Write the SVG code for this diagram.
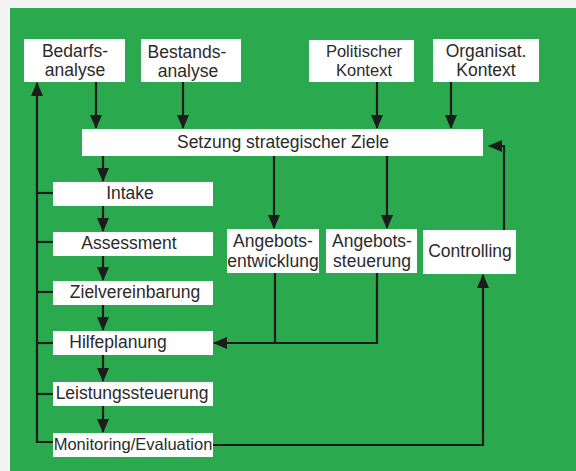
<svg xmlns="http://www.w3.org/2000/svg" width="576" height="471" viewBox="0 0 576 471">
  <style>
    .box { fill: #ffffff; }
    .lbl { font-family: "Liberation Sans", Arial, sans-serif; font-size: 17.5px; fill: #2b2b2b; text-anchor: middle; }
    .wire { fill: none; stroke: #1c1c1c; stroke-width: 2.2; }
    .arrow { marker-end: url(#head); }
  </style>
  <defs>
    <marker id="head" markerUnits="userSpaceOnUse" markerWidth="14" markerHeight="12" viewBox="0 0 14 12" refX="13" refY="6" orient="auto">
      <path d="M0,0 L14,6 L0,12 z" fill="#1c1c1c"/>
    </marker>
  </defs>

  <!-- page and panel -->
  <rect x="0" y="0" width="576" height="471" fill="#f4f4f4"/>
  <rect x="10" y="8" width="566" height="463" fill="#2ba94f"/>

  <!-- connectors -->
  <g id="connectors">
    <line class="wire arrow" x1="96" y1="82" x2="96" y2="128"/>
    <line class="wire arrow" x1="183" y1="82" x2="183" y2="128"/>
    <line class="wire arrow" x1="377" y1="82" x2="377" y2="128"/>
    <line class="wire arrow" x1="451" y1="82" x2="451" y2="128"/>

    <line class="wire arrow" x1="103" y1="156" x2="103" y2="181"/>
    <line class="wire arrow" x1="274" y1="156" x2="274" y2="228"/>
    <line class="wire arrow" x1="387" y1="156" x2="387" y2="228"/>

    <line class="wire arrow" x1="103" y1="206" x2="103" y2="231"/>
    <line class="wire arrow" x1="103" y1="256" x2="103" y2="280"/>
    <line class="wire arrow" x1="103" y1="305" x2="103" y2="330"/>
    <line class="wire arrow" x1="103" y1="355" x2="103" y2="381"/>
    <line class="wire arrow" x1="103" y1="406" x2="103" y2="432"/>

    <!-- feedback line on the left -->
    <polyline class="wire arrow" points="53,442 37,442 37,83"/>
    <line class="wire" x1="37" y1="193" x2="53" y2="193"/>
    <line class="wire" x1="37" y1="242" x2="53" y2="242"/>
    <line class="wire" x1="37" y1="292" x2="53" y2="292"/>
    <line class="wire" x1="37" y1="343" x2="53" y2="343"/>
    <line class="wire" x1="37" y1="394" x2="53" y2="394"/>

    <!-- offer development / steering into Hilfeplanung -->
    <line class="wire" x1="275" y1="273" x2="275" y2="343"/>
    <polyline class="wire arrow" points="377,273 377,343 214,343"/>

    <!-- monitoring to controlling, controlling back to goals -->
    <polyline class="wire arrow" points="213,445 483,445 483,275"/>
    <polyline class="wire arrow" points="504,230 504,146 489,146"/>
  </g>

  <g id="bedarfsanalyse">
    <rect class="box" x="24" y="39" width="101" height="43"/>
    <text class="lbl" x="75" y="57">Bedarfs-</text>
    <text class="lbl" x="75" y="76">analyse</text>
  </g>
  <g id="bestandsanalyse">
    <rect class="box" x="141" y="39" width="100" height="43"/>
    <text class="lbl" x="187" y="58">Bestands-</text>
    <text class="lbl" x="188" y="77">analyse</text>
  </g>
  <g id="politischer-kontext">
    <rect class="box" x="309" y="40" width="105" height="42"/>
    <text class="lbl" x="364" y="57" style="font-size:16.5px">Politischer</text>
    <text class="lbl" x="364" y="76" style="font-size:16.5px">Kontext</text>
  </g>
  <g id="organisat-kontext">
    <rect class="box" x="433" y="39" width="106" height="43"/>
    <text class="lbl" x="486" y="57">Organisat.</text>
    <text class="lbl" x="486" y="76">Kontext</text>
  </g>
  <g id="ziele">
    <rect class="box" x="82" y="129" width="401" height="27"/>
    <text class="lbl" x="283" y="148">Setzung strategischer Ziele</text>
  </g>
  <g id="intake">
    <rect class="box" x="53" y="182" width="160" height="24"/>
    <text class="lbl" x="130" y="199">Intake</text>
  </g>
  <g id="assessment">
    <rect class="box" x="53" y="232" width="160" height="24"/>
    <text class="lbl" x="129" y="249">Assessment</text>
  </g>
  <g id="zielvereinbarung">
    <rect class="box" x="53" y="281" width="160" height="24"/>
    <text class="lbl" x="135" y="298">Zielvereinbarung</text>
  </g>
  <g id="hilfeplanung">
    <rect class="box" x="53" y="331" width="160" height="24"/>
    <text class="lbl" x="118" y="348">Hilfeplanung</text>
  </g>
  <g id="leistungssteuerung">
    <rect class="box" x="53" y="382" width="160" height="24"/>
    <text class="lbl" x="132" y="399">Leistungssteuerung</text>
  </g>
  <g id="monitoring">
    <rect class="box" x="53" y="433" width="160" height="24"/>
    <text class="lbl" x="133" y="450" style="font-size:16.5px">Monitoring/Evaluation</text>
  </g>
  <g id="angebotsentwicklung">
    <rect class="box" x="227" y="229" width="92" height="44"/>
    <text class="lbl" x="273" y="247">Angebots-</text>
    <text class="lbl" x="273" y="267">entwicklung</text>
  </g>
  <g id="angebotssteuerung">
    <rect class="box" x="326" y="229" width="91" height="44"/>
    <text class="lbl" x="372" y="247">Angebots-</text>
    <text class="lbl" x="372" y="267">steuerung</text>
  </g>
  <g id="controlling">
    <rect class="box" x="423" y="230" width="93" height="44"/>
    <text class="lbl" x="470" y="257">Controlling</text>
  </g>
</svg>
